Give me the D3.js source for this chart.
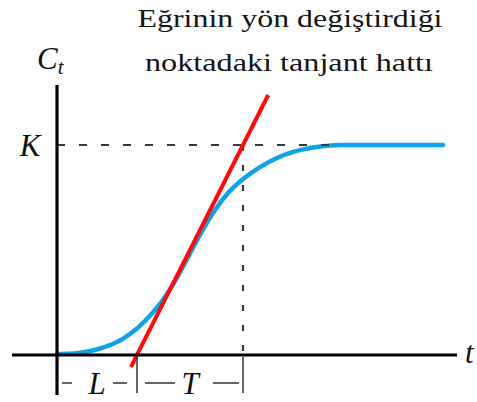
<!DOCTYPE html>
<html>
<head>
<meta charset="utf-8">
<script src="https://cdn.jsdelivr.net/npm/d3@7"></script>
<style>
  html, body { margin: 0; padding: 0; background: #fff; }
  svg { display: block; }
</style>
</head>
<body>
<script>
// Step response of a process and the tangent drawn at its inflection point.
const K = 1;            // final value
const L = 4;            // dead time (tangent meets the time axis)
const T = 5.3;          // time constant (tangent reaches K at L + T)

// response curve C(t)
const times  = [0, 0.65, 1.4, 2.15, 2.9, 3.65, 4.4, 5.15, 5.9, 6.4, 6.9, 7.4, 7.9, 8.55, 9.3, 10.15, 11.0, 11.8, 12.65, 13.4, 14.15, 19.3];
const values = [0.005, 0.006, 0.014, 0.031, 0.057, 0.1, 0.162, 0.243, 0.352, 0.438, 0.529, 0.614, 0.69, 0.771, 0.838, 0.895, 0.938, 0.967, 0.986, 0.995, 1.0, 1.0];

// extent of the drawn tangent, as fractions of K
const tangentSpan = [-0.057, 1.238];

const titleLines = ["Eğrinin yön değiştirdiği", "noktadaki tanjant hattı"];

const W = 477, H = 402;
const svg = d3.select("body").append("svg").attr("width", W).attr("height", H);

const x = d3.scaleLinear().domain([-2.25, 20]).range([12, 457]);
const y = d3.scaleLinear().domain([0, K]).range([355, 145]);

const mathFont = '"Liberation Serif"';
const captionFont = 'serif';

// response curve
const curve = times.map((t, i) => [t, values[i]]);
svg.append("path")
  .datum(curve)
  .attr("fill", "none")
  .attr("stroke", "#0ea2e6")
  .attr("stroke-width", 4.5)
  .attr("stroke-linecap", "round")
  .attr("d", d3.line().x(d => x(d[0])).y(d => y(d[1])).curve(d3.curveMonotoneX));

// guides: level K and time L + T
const guide = svg.append("g").attr("stroke", "#3a3a3a").attr("stroke-width", 2.2).attr("fill", "none");
guide.append("line")
  .attr("x1", x(0)).attr("x2", x(13.8))
  .attr("y1", y(K)).attr("y2", y(K))
  .attr("stroke-dasharray", "8,14");
guide.append("line")
  .attr("x1", x(L + T)).attr("x2", x(L + T))
  .attr("y1", y(K)).attr("y2", y(0))
  .attr("stroke-dasharray", "6,14");

// tangent through (L, 0) and (L + T, K)
const tangent = tangentSpan.map(f => [L + T * f, K * f]);
svg.append("path")
  .datum(tangent)
  .attr("fill", "none")
  .attr("stroke", "#ff0a0a")
  .attr("stroke-width", 4)
  .attr("d", d3.line().x(d => x(d[0])).y(d => y(d[1])));

// axes
const axes = svg.append("g").attr("stroke", "#000").attr("stroke-width", 3.2);
axes.append("line").attr("x1", x(-2.25)).attr("x2", x(20)).attr("y1", y(0)).attr("y2", y(0));
axes.append("line").attr("x1", x(0)).attr("x2", x(0)).attr("y1", y(1.286)).attr("y2", 395);

// interval markers for L and T below the axis
const marks = svg.append("g").attr("stroke", "#333").attr("stroke-width", 1.5);
[L, L + T].forEach(t => {
  marks.append("line").attr("x1", x(t)).attr("x2", x(t)).attr("y1", y(0) + 2).attr("y2", 393);
});
const dashes = [[0.25, 0.75], [2.8, 3.5], [4.4, 5.9], [7.8, 9.1]];
dashes.forEach(([a, b]) => {
  marks.append("line").attr("x1", x(a)).attr("x2", x(b)).attr("y1", 383).attr("y2", 383);
});

// italic math labels
function mathText(px, py, size, anchor, str) {
  return svg.append("text").attr("x", px).attr("y", py)
    .style("font-family", mathFont).style("font-style", "italic").style("font-size", size + "px")
    .attr("fill", "#111").attr("text-anchor", anchor).text(str);
}
mathText(x(L / 2), 394, 31, "middle", "L");
mathText(x(L + T / 2), 394, 31, "middle", "T");
mathText(30, y(K) + 11, 31, "middle", "K");
mathText(465, 363, 31, "start", "t");
const ct = mathText(37, 69, 31, "start", "C");
ct.append("tspan").style("font-size", "21px").attr("dy", 5).text("t");

// caption
titleLines.forEach((line, i) => {
  svg.append("text")
    .attr("x", i === 0 ? 290 : 289).attr("y", i === 0 ? 27 : 71)
    .style("font-family", captionFont).style("font-size", "25px")
    .attr("fill", "#141414").attr("text-anchor", "middle")
    .attr("textLength", i === 0 ? 305 : 288).attr("lengthAdjust", "spacingAndGlyphs")
    .text(line);
});
</script>
</body>
</html>
